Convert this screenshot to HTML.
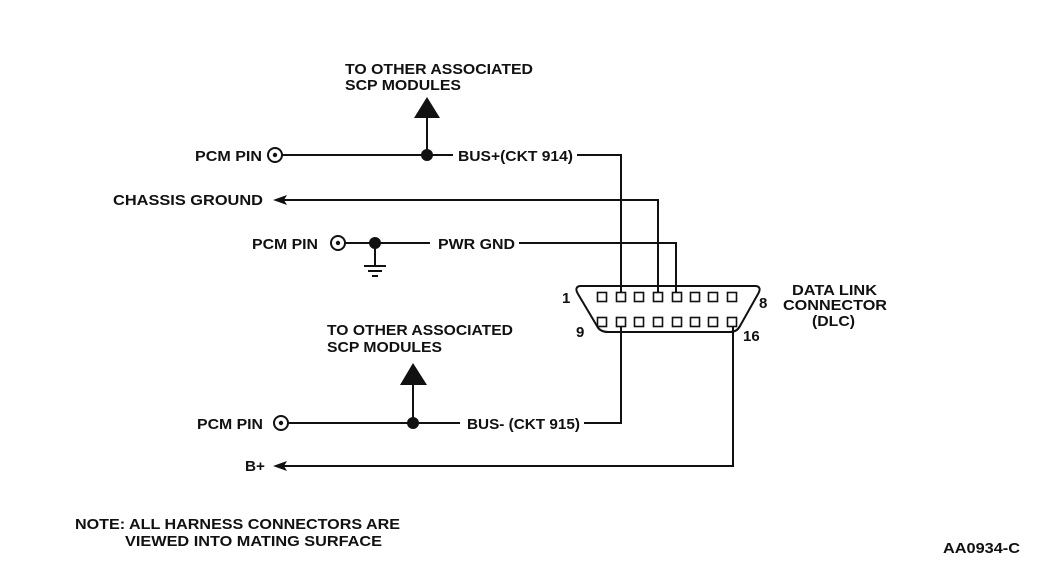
<!DOCTYPE html>
<html><head><meta charset="utf-8"><style>
html,body{margin:0;padding:0;background:#fff;}
svg text{font-family:"Liberation Sans",Arial,sans-serif;font-size:15px;font-weight:bold;fill:#111;}
</style></head><body>
<svg width="1044" height="565" viewBox="0 0 1044 565" xmlns="http://www.w3.org/2000/svg">
<g stroke="#111" stroke-width="2" fill="none">
<circle cx="275" cy="155" r="7"/>
<line x1="282" y1="155" x2="453" y2="155"/>
<line x1="427" y1="155" x2="427" y2="117"/>
<polyline points="577,155 621,155 621,297"/>
<polyline points="283,200 658,200 658,297"/>
<circle cx="338" cy="243" r="7"/>
<line x1="345" y1="243" x2="430" y2="243"/>
<polyline points="519,243 676,243 676,297"/>
<line x1="375" y1="243" x2="375" y2="266"/>
<line x1="364" y1="266" x2="386" y2="266"/>
<line x1="368" y1="271" x2="382" y2="271"/>
<line x1="372" y1="276" x2="378" y2="276"/>
<circle cx="281" cy="423" r="7"/>
<line x1="288" y1="423" x2="460" y2="423"/>
<line x1="413" y1="423" x2="413" y2="385"/>
<polyline points="584,423 621,423 621,322"/>
<polyline points="283,466 733,466 733,322"/>
<path d="M580,286 L756,286 Q762,287 758,294 L740,326 Q737,332 730,332 L608,332 Q600,332 597,326 L578,294 Q574,287 580,286 Z"/>
</g>
<g fill="#111">
<circle cx="275" cy="155" r="2.2"/>
<circle cx="338" cy="243" r="2.2"/>
<circle cx="281" cy="423" r="2.2"/>
<circle cx="427" cy="155" r="6"/>
<circle cx="375" cy="243" r="6"/>
<circle cx="413" cy="423" r="6"/>
<polygon points="427,97 414,118 440,118"/>
<polygon points="413,363 400,385 427,385"/>
<polygon points="273,200 287,195 284,200 287,205"/>
<polygon points="273,466 287,461 284,466 287,471"/>
</g>
<g fill="#fff" stroke="#111" stroke-width="1.6">
<rect x="597.5" y="292.5" width="9" height="9"/><rect x="616.5" y="292.5" width="9" height="9"/>
<rect x="634.5" y="292.5" width="9" height="9"/><rect x="653.5" y="292.5" width="9" height="9"/>
<rect x="672.5" y="292.5" width="9" height="9"/><rect x="690.5" y="292.5" width="9" height="9"/>
<rect x="708.5" y="292.5" width="9" height="9"/><rect x="727.5" y="292.5" width="9" height="9"/>
<rect x="597.5" y="317.5" width="9" height="9"/><rect x="616.5" y="317.5" width="9" height="9"/>
<rect x="634.5" y="317.5" width="9" height="9"/><rect x="653.5" y="317.5" width="9" height="9"/>
<rect x="672.5" y="317.5" width="9" height="9"/><rect x="690.5" y="317.5" width="9" height="9"/>
<rect x="708.5" y="317.5" width="9" height="9"/><rect x="727.5" y="317.5" width="9" height="9"/>
</g>
<text x="345" y="74" textLength="188" lengthAdjust="spacingAndGlyphs">TO OTHER ASSOCIATED</text>
<text x="345" y="90" textLength="116" lengthAdjust="spacingAndGlyphs">SCP MODULES</text>
<text x="195" y="161" textLength="67" lengthAdjust="spacingAndGlyphs">PCM PIN</text>
<text x="458" y="161" textLength="115" lengthAdjust="spacingAndGlyphs">BUS+(CKT 914)</text>
<text x="113" y="205" textLength="150" lengthAdjust="spacingAndGlyphs">CHASSIS GROUND</text>
<text x="252" y="249" textLength="66" lengthAdjust="spacingAndGlyphs">PCM PIN</text>
<text x="438" y="249" textLength="77" lengthAdjust="spacingAndGlyphs">PWR GND</text>
<text x="327" y="335" textLength="186" lengthAdjust="spacingAndGlyphs">TO OTHER ASSOCIATED</text>
<text x="327" y="352" textLength="115" lengthAdjust="spacingAndGlyphs">SCP MODULES</text>
<text x="197" y="429" textLength="66" lengthAdjust="spacingAndGlyphs">PCM PIN</text>
<text x="467" y="429" textLength="113" lengthAdjust="spacingAndGlyphs">BUS- (CKT 915)</text>
<text x="245" y="471" textLength="20" lengthAdjust="spacingAndGlyphs">B+</text>
<text x="562" y="303">1</text>
<text x="759" y="308">8</text>
<text x="576" y="337">9</text>
<text x="743" y="341">16</text>
<text x="792" y="295" textLength="85" lengthAdjust="spacingAndGlyphs">DATA LINK</text>
<text x="783" y="310" textLength="104" lengthAdjust="spacingAndGlyphs">CONNECTOR</text>
<text x="812" y="326" textLength="43" lengthAdjust="spacingAndGlyphs">(DLC)</text>
<text x="75" y="529" textLength="325" lengthAdjust="spacingAndGlyphs">NOTE: ALL HARNESS CONNECTORS ARE</text>
<text x="125" y="546" textLength="257" lengthAdjust="spacingAndGlyphs">VIEWED INTO MATING SURFACE</text>
<text x="943" y="553" textLength="77" lengthAdjust="spacingAndGlyphs">AA0934-C</text>
</svg>
</body></html>
